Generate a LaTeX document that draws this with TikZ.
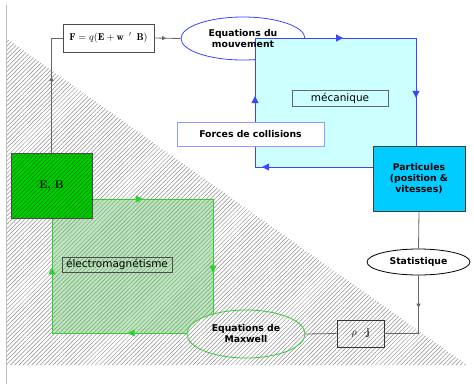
\documentclass[tikz,border=0pt]{standalone}
\usepackage{fontspec}
\newfontfamily\dv{DejaVu Sans}
\usetikzlibrary{shapes.geometric,patterns,patterns.meta,arrows.meta,decorations.markings}
\definecolor{bluel}{RGB}{60,70,255}
\definecolor{cyanf}{RGB}{204,255,255}
\definecolor{partf}{RGB}{0,204,255}
\definecolor{greenl}{RGB}{51,204,51}
\definecolor{ebf}{RGB}{0,204,0}
\definecolor{forcesl}{RGB}{150,150,255}
\definecolor{hatchc}{RGB}{140,140,140}
\definecolor{greenf}{RGB}{190,230,190}
\definecolor{greenh}{RGB}{120,160,120}
\tikzset{
  midarrow/.style={postaction={decorate},decoration={markings,mark=at position #1 with {\arrow{Triangle[length=7pt,width=7pt]}}}},
  smallarrow/.style={postaction={decorate},decoration={markings,mark=at position #1 with {\arrow{Triangle[length=4pt,width=4pt]}}}},
  hatch/.style={pattern={Lines[angle=45,distance=3pt,line width=0.5pt]}, pattern color=#1},
  boldtxt/.style={font=\dv\bfseries\fontsize{9.3}{11}\selectfont, align=center},
  normtxt/.style={font=\dv\fontsize{10.5}{12}\selectfont},
  grayline/.style={draw=black!60, line width=0.8pt},
  box/.style={rectangle, inner sep=0pt, anchor=center},
}
\begin{document}
\begin{tikzpicture}[x=1pt,y=-1pt]
\useasboundingbox (0,0) rectangle (474,384);
% hatched background
\path[hatch=hatchc] (6,38) -- (467,365) -- (6,365) -- cycle;
\draw[black!25, line width=0.8pt] (6,5) -- (6,384);
% F box
\node[box, draw=black!70, fill=white, minimum width=91pt, minimum height=28pt] (F) at (108.5,38) {$\mathbf{F} = q(\mathbf{E} + \mathbf{w}\ \,'\ \,\mathbf{B})$};
% equations du mouvement ellipse (shape)
\node[ellipse, draw=bluel, fill=white, line width=0.8pt, minimum width=124pt, minimum height=43pt, inner sep=0pt] (eqm) at (243,38.5) {};
% blue rectangle
\fill[cyanf] (255,38) rectangle (416,167);
% Particules
\node[box, draw=black!75, fill=partf, line width=0.8pt, minimum width=92pt, minimum height=65pt, boldtxt] (part) at (419,178.5) {Particules\\(position \&\\vitesses)};
\draw[bluel, line width=1pt, midarrow=0.55] (255,167) -- (255,38);
\draw[bluel, line width=1pt, midarrow=0.547] (255,38) -- (416,38);
\draw[bluel, line width=1pt, midarrow=0.556] (416,38) -- (part.north -| 416,38);
\draw[bluel, line width=1pt, midarrow=0.94] (part.west |- 0,167) -- (255,167);
\node[boldtxt] (eqmt) at (eqm.center) {Equations du\\mouvement};
% mecanique label
\node[box, draw=black!60, line width=0.8pt, minimum width=96pt, minimum height=16pt, normtxt] (mec) at (340,98) {mécanique};
% forces de collisions
\node[box, draw=forcesl, fill=white, line width=0.8pt, minimum width=147pt, minimum height=24pt, boldtxt] (forces) at (250.5,134) {Forces de collisions};
% Statistique
\node[ellipse, draw=black, fill=white, line width=0.8pt, minimum width=103pt, minimum height=26pt, inner sep=0pt, boldtxt] (stat) at (418.5,262) {Statistique};
% rho j
\node[box, draw=black!80, line width=0.8pt, minimum width=47pt, minimum height=27pt] (rho) at (360.5,333.5) {$\rho\ \ {\cdot}\mathbf{j}$};
% connectors
\draw[grayline, smallarrow=0.45] (F.east) -- (eqm.west);
\draw[grayline] (part.south) -- (stat.north);
\draw[grayline, smallarrow=0.35] (stat.south) -- (stat.south |- rho.east) -- (rho.east);
% green rectangle
\fill[greenf] (52,199) rectangle (213,333);
\path[hatch=greenh] (52,199) rectangle (213,333);
\draw[greenl, line width=1pt, midarrow=0.42] (92,199) -- (213,199);
\draw[greenl, line width=1pt, midarrow=0.55] (213,199) -- (213,333);
\draw[greenl, line width=1pt, midarrow=0.53] (213,333) -- (52,333);
\draw[greenl, line width=1pt, midarrow=0.57] (52,333) -- (52,218);
% Maxwell
\node[ellipse, draw=greenl, line width=0.8pt, preaction={fill=white}, hatch=hatchc, minimum width=118pt, minimum height=48pt, inner sep=0pt, boldtxt] (maxw) at (246,334) {Equations de\\Maxwell};
\draw[grayline] (rho.west) -- (maxw.east);
% E,B box
\node[box, draw=black!70, line width=0.8pt, preaction={fill=ebf}, hatch=green!50!black, minimum width=81pt, minimum height=65pt, font=\bfseries\fontsize{11}{13}\selectfont] (EB) at (51.5,185.5) {E, B};
\draw[grayline, smallarrow=0.6] (EB.north) |- (F.west);
% electromagnetisme label
\node[box, draw=black!70, line width=0.8pt, minimum width=110pt, minimum height=15pt, normtxt] (elec) at (117,264.5) {électromagnétisme};
\end{tikzpicture}
\end{document}
